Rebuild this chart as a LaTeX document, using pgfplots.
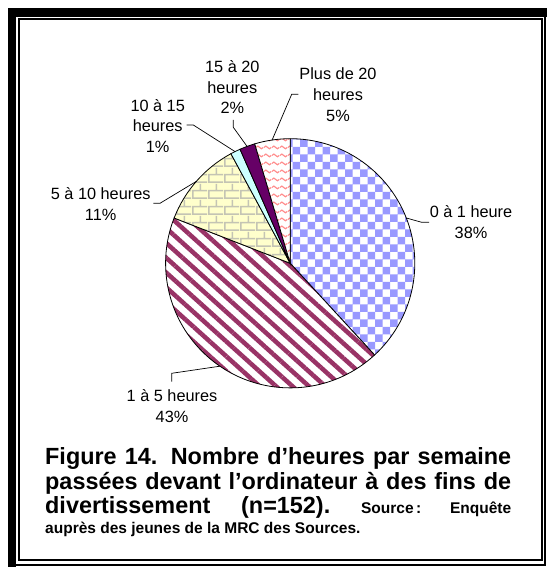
\documentclass[border=0pt]{standalone}
\usepackage{pgfplots}
\pgfplotsset{compat=1.18}
\usepackage{pgfplotstable}
\usepackage{fontspec}
\setmainfont{Liberation Sans}
\usetikzlibrary{patterns,patterns.meta}

\definecolor{checkblue}{HTML}{9999FF}
\definecolor{stripe}{HTML}{993366}
\definecolor{brickbg}{HTML}{FFFFCC}
\definecolor{mortar}{HTML}{C4C4B4}
\definecolor{lcyan}{HTML}{CCFFFF}
\definecolor{dpurple}{HTML}{660066}
\definecolor{wave}{HTML}{FF8C8C}

% fill patterns of the slices
\pgfdeclarepatternformonly{piechecker}{\pgfqpoint{-.1pt}{-.1pt}}{\pgfqpoint{15.1pt}{15.1pt}}{\pgfqpoint{15pt}{15pt}}{
  \pgfpathrectangle{\pgfqpoint{0pt}{0pt}}{\pgfqpoint{7.5pt}{7.5pt}}
  \pgfpathrectangle{\pgfqpoint{7.5pt}{7.5pt}}{\pgfqpoint{7.5pt}{7.5pt}}
  \pgfusepath{fill}}
\pgfdeclarepatternformonly{piebricks}{\pgfpointorigin}{\pgfqpoint{16pt}{16pt}}{\pgfqpoint{16pt}{16pt}}{
  \pgfpathrectangle{\pgfqpoint{0pt}{0pt}}{\pgfqpoint{16pt}{1.7pt}}
  \pgfpathrectangle{\pgfqpoint{0pt}{8pt}}{\pgfqpoint{16pt}{1.7pt}}
  \pgfpathrectangle{\pgfqpoint{0pt}{0pt}}{\pgfqpoint{1.7pt}{8pt}}
  \pgfpathrectangle{\pgfqpoint{8pt}{8pt}}{\pgfqpoint{1.7pt}{8pt}}
  \pgfusepath{fill}}
\pgfdeclarepatternformonly{piewaves}{\pgfpointorigin}{\pgfqpoint{8pt}{8pt}}{\pgfqpoint{8pt}{8pt}}{
  \pgfsetlinewidth{1.3pt}
  \pgfpathmoveto{\pgfqpoint{0pt}{4pt}}
  \pgfpathcurveto{\pgfqpoint{1.3pt}{6pt}}{\pgfqpoint{2.7pt}{6pt}}{\pgfqpoint{4pt}{4pt}}
  \pgfpathcurveto{\pgfqpoint{5.3pt}{2pt}}{\pgfqpoint{6.7pt}{2pt}}{\pgfqpoint{8pt}{4pt}}
  \pgfusepath{stroke}}

\tikzset{
  bg0/.style={fill=white},   pat0/.style={pattern=piechecker, pattern color=checkblue},
  bg1/.style={fill=white},   pat1/.style={pattern={Lines[angle=-42,distance=11pt,line width=4.5pt]}, pattern color=stripe},
  bg2/.style={fill=brickbg}, pat2/.style={pattern=piebricks, pattern color=mortar},
  bg3/.style={fill=lcyan},   pat3/.style={},
  bg4/.style={fill=dpurple}, pat4/.style={},
  bg5/.style={fill=white},   pat5/.style={pattern=piewaves, pattern color=wave},
  lbl/.style={font=\fontsize{16.3}{20.7}\selectfont, align=center, inner sep=0pt},
  capbig/.style={font=\fontsize{23.4}{26}\selectfont\bfseries, anchor=base west, inner sep=0pt},
  capsmall/.style={font=\fontsize{15.5}{18}\selectfont\bfseries, anchor=base west, inner sep=0pt},
}

% share of respondents (%), clockwise from 12 o'clock
\pgfplotstableread[col sep=comma]{
label,pct
0 à 1 heure,38.2
1 à 5 heures,42.8
5 à 10 heures,11.2
10 à 15 heures,1.3
15 à 20 heures,2.0
Plus de 20 heures,4.6
}\piedata

\newcommand\R{124.6pt}
\newcommand\slice[3]{%
  \path[bg#1] (axis cs:0,0) -- ++(#2:\R) arc[start angle=#2, end angle=#3, radius=\R] -- cycle;
  \path[pat#1] (axis cs:0,0) -- ++(#2:\R) arc[start angle=#2, end angle=#3, radius=\R] -- cycle;
  \draw[line width=0.8pt] (axis cs:0,0) -- ++(#2:\R) arc[start angle=#2, end angle=#3, radius=\R] -- cycle;
}

\begin{document}
\begin{tikzpicture}
\useasboundingbox (0,0) rectangle (548pt,567pt);

\begin{axis}[
    at={(165.6pt,179.1pt)}, anchor=south west,
    scale only axis, width=249.2pt, height=249.2pt,
    xmin=-1, xmax=1, ymin=-1, ymax=1,
    hide axis, clip=false
]
\pgfplotsextra{
  \pgfplotstablegetrowsof{\piedata}
  \pgfmathtruncatemacro\lastrow{\pgfplotsretval-1}
  \gdef\total{0}
  \foreach \i in {0,...,\lastrow}{
    \pgfplotstablegetelem{\i}{pct}\of\piedata
    \pgfmathsetmacro\t{\total+\pgfplotsretval}
    \xdef\total{\t}
  }
  \pgfmathsetmacro\degper{360/\total}
  \gdef\acc{0}
  \foreach \i in {0,...,\lastrow}{
    \pgfplotstablegetelem{\i}{pct}\of\piedata
    \pgfmathsetmacro\a{90-\degper*\acc}
    \pgfmathsetmacro\newacc{\acc+\pgfplotsretval}
    \pgfmathsetmacro\b{90-\degper*\newacc}
    \xdef\acc{\newacc}
    \slice{\i}{\a}{\b}
  }
}
\end{axis}

% frame, labels and caption in picture pixels (y downwards)
\begin{scope}[x=1pt, y=-1pt, yshift=567pt]
  \fill (8,8) rectangle (547.3,16.7);
  \fill (8,8) rectangle (16,567);
  \fill (544,8) rectangle (546.3,566);
  \fill (8,564) rectangle (546.3,566);
  \draw[line width=1.7pt] (19.2,19.2) rectangle (541.8,560);

  \node[lbl] at (471,222) {0 à 1 heure\\38\%};
  \node[lbl] at (172,406) {1 à 5 heures\\43\%};
  \node[lbl] at (100.7,204) {5 à 10 heures\\11\%};
  \node[lbl] at (157.7,125.8) {10 à 15\\heures\\1\%};
  \node[lbl] at (232.3,87.2) {15 à 20\\heures\\2\%};
  \node[lbl] at (338,94.5) {Plus de 20\\heures\\5\%};

  \draw[line width=0.7pt] (406.3,218) -- (421.7,222.3) -- (429,222.3);
  \draw[line width=0.7pt] (220,366.2) -- (171.7,373.3) -- (171.7,381.7);
  \draw[line width=0.7pt] (196.6,181.2) -- (160,203.3) -- (153.3,203.3);
  \draw[line width=0.7pt] (235.2,151.7) -- (193.3,125) -- (186.7,125);
  \draw[line width=0.7pt] (247.2,146.6) -- (233.3,127.3) -- (233.3,120);
  \draw[line width=0.7pt] (272,140.3) -- (291.7,94.3) -- (298.3,94.3);

  \node[capbig] at (45,465) {\makebox[466pt][s]{Figure 14. Nombre d’heures par semaine}};
  \node[capbig] at (45,489.5) {\makebox[466pt][s]{passées devant l’ordinateur à des fins de}};
  \node[capbig] at (45,513.5) {\makebox[466pt][l]{divertissement\ \hfill(n=152).\ \hfill{\fontsize{15.5}{18}\selectfont Source\,:\ \hfill Enquête}}};
  \node[capsmall] at (45,534) {auprès des jeunes de la MRC des Sources.};
\end{scope}
\end{tikzpicture}
\end{document}
